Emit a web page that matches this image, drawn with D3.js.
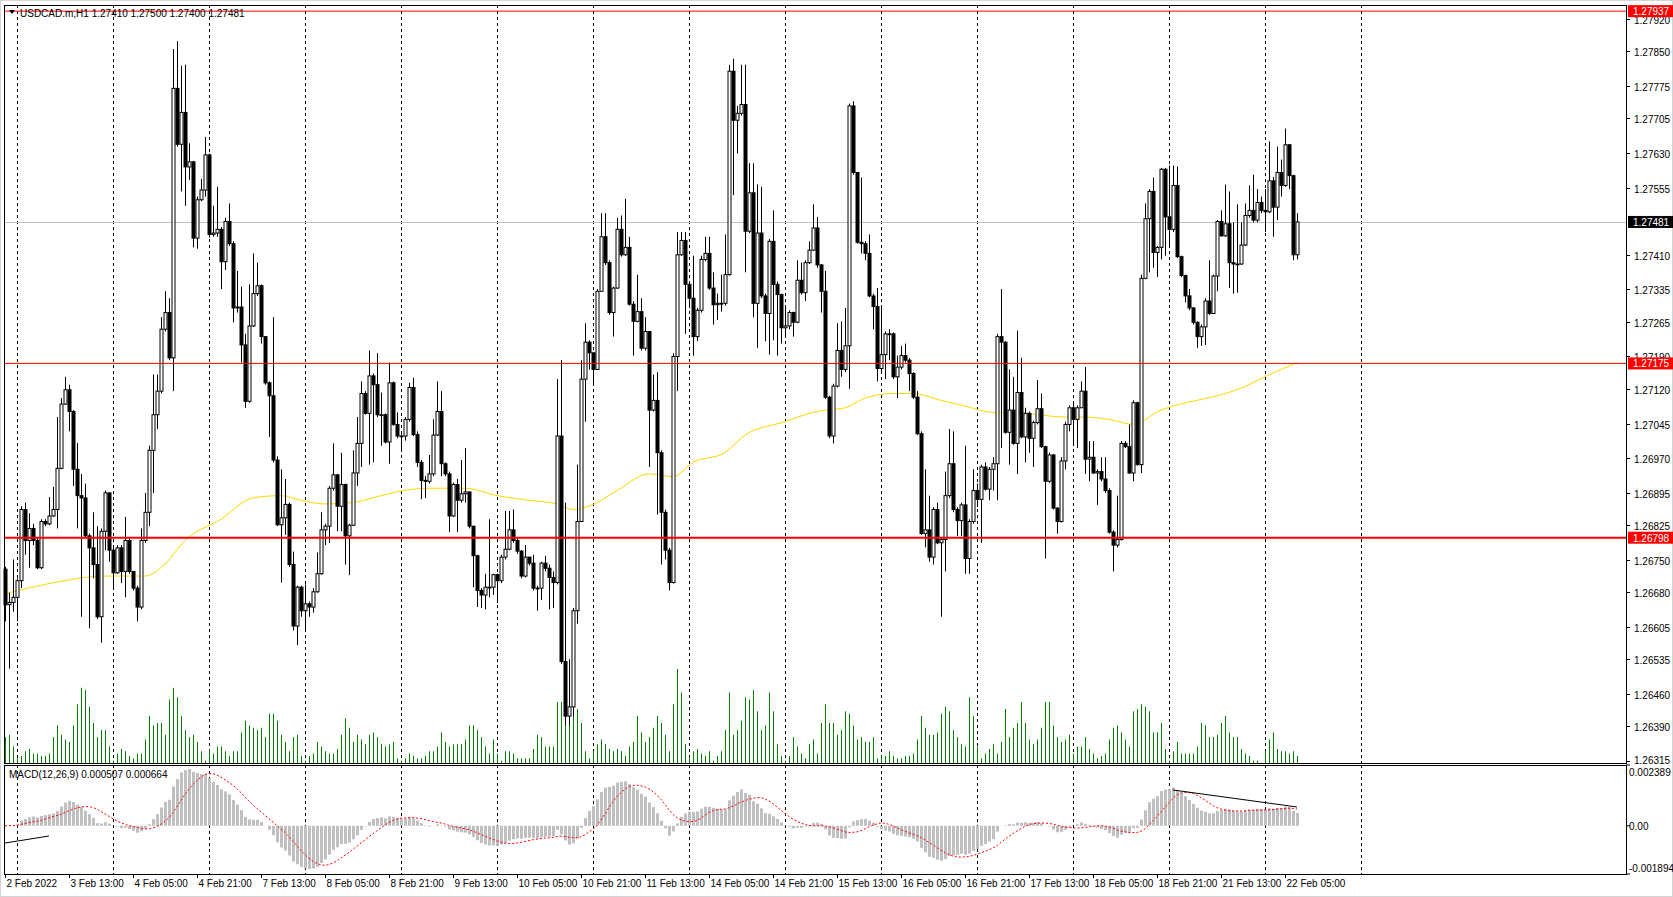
<!DOCTYPE html>
<html><head><meta charset="utf-8">
<script src="https://cdn.jsdelivr.net/npm/d3@7"></script>
<style>body{margin:0;background:#fff;}svg{display:block;font-family:"Liberation Sans",Arial,sans-serif;}</style>
</head><body>
<svg id="c" width="1673" height="897"></svg>
<script>
// prices stored as points above 1.26000 (1 point = 0.00001)
const BASE = 1.26;
const closePts = [
653,658,669,705,859,792,818,792,733,833, 828,845,859,948,1087,1118,1071,946,889,884,
802,776,740,627,812,895,771,722,776,725, 792,725,689,648,792,853,987,1064,1115,1249,
1285,1187,1770,1649,1718,1600,1611,1446,1529,1550, 1626,1454,1457,1465,1395,1482,1434,1295,1297,1215,
1093,1256,1326,1343,1233,1133,1105,966,826,841, 870,740,607,691,640,655,648,681,720,815,
823,905,934,866,913,802,825,938,1002,1110, 1067,1148,1129,1064,1064,1005,1133,1043,1018,1018,
1054,1123,1021,961,922,920,936,1020,1071,958, 936,845,913,879,893,897,823,759,684,674,
691,691,718,705,756,773,815,792,769,715, 756,743,689,689,743,732,712,701,1018,530,
412,432,640,833,1141,1221,1198,1162,1331,1449, 1393,1285,1338,1465,1410,1426,1303,1266,1287,1208,
1244,1074,1095,982,853,771,701,1190,1410,1441, 1346,1316,1233,1290,1400,1413,1338,1302,1305,1305,
1367,1807,1701,1716,1735,1461,1544,1305,1457,1321, 1283,1439,1346,1324,1252,1256,1285,1264,1355,1328,
1393,1420,1468,1388,1331,1102,1018,1126,1203,1162, 1213,1732,1588,1437,1434,1413,1321,1298,1164,1194,
1239,1239,1146,1167,1192,1182,1153,1102,1023,807, 815,756,859,787,794,889,958,859,835,869,
753,833,900,881,951,903,946,958,1233,1221, 1026,1074,1002,1112,1016,1067,1013,1047,1077,995,
920,977,862,833,964,1043,1079,1054,1079,1115, 968,972,938,941,925,900,810,782,794,1002,
995,938,1090,956,1359,1488,1547,1415,1426,1595, 1492,1465,1560,1406,1365,1321,1295,1264,1233,1254,
1310,1283,1364,1482,1451,1477,1393,1390,1390,1431, 1495,1506,1485,1523,1506,1503,1570,1513,1588,1560,
1648,1581,1410,1481];
const highPts = [
735,679,751,710,866,874,851,828,797,838, 838,886,908,1059,1100,1146,1129,1074,1003,936,
915,807,853,823,818,900,895,776,782,782, 843,797,720,694,818,895,997,1151,1151,1275,
1331,1316,1855,1872,1819,1821,1651,1613,1536,1574, 1665,1629,1516,1557,1470,1490,1521,1439,1375,1341,
1239,1346,1413,1393,1346,1233,1136,1275,974,946, 925,874,768,694,694,697,660,689,766,853,
828,910,1002,936,982,915,828,987,1059,1136, 1115,1203,1153,1197,1112,1067,1177,1136,1069,1028,
1059,1133,1144,1028,966,931,977,1054,1136,1115, 961,941,917,925,966,992,897,823,761,689,
720,838,720,720,761,856,856,859,797,771, 782,756,761,694,746,759,740,725,1141,1182,
874,535,646,956,1182,1262,1225,1197,1336,1500, 1500,1398,1341,1490,1495,1531,1449,1310,1367,1316,
1275,1244,1151,1156,987,859,776,1197,1459,1459, 1459,1321,1408,1295,1408,1449,1449,1372,1326,1367,
1454,1821,1834,1732,1821,1821,1608,1608,1562,1557, 1326,1444,1506,1352,1326,1300,1290,1287,1398,1393,
1398,1439,1519,1492,1390,1375,1105,1131,1262,1266, 1295,1737,1742,1577,1577,1439,1454,1326,1338,1300,
1244,1249,1242,1192,1213,1218,1187,1156,1115,1028, 946,889,864,874,797,941,1033,1028,864,874,
997,838,946,915,956,961,951,972,1239,1336, 1223,1162,1146,1246,1187,1079,1071,1051,1139,1110,
997,982,979,864,972,1049,1084,1090,1084,1136, 1167,1007,1007,946,972,972,905,814,889,1007,
1007,1043,1095,1092,1367,1521,1552,1577,1429,1598, 1598,1603,1603,1601,1408,1367,1336,1297,1266,1259,
1316,1398,1367,1485,1506,1562,1547,1480,1519,1480, 1521,1560,1583,1552,1536,1552,1655,1578,1644,1616,
1683,1649,1583,1500];
const lowPts = [
617,515,638,617,689,761,733,782,730,730, 823,825,843,818,946,1085,1028,910,818,627,
797,602,710,622,571,771,746,689,720,700, 669,720,684,617,643,787,823,895,1033,1110,
1244,1182,1115,1644,1547,1516,1572,1426,1423,1526, 1536,1447,1449,1449,1336,1377,1429,1264,1285,1177,
1079,1090,1254,1321,1218,1129,1016,961,823,701, 804,735,597,566,627,595,627,636,679,718,
782,787,900,812,812,740,717,823,910,951, 1064,956,961,1059,997,1002,958,1040,1013,987,
1008,1049,1018,951,881,884,915,931,1018,931, 931,810,843,810,874,874,818,691,648,646,
643,669,674,656,700,751,771,787,763,710, 712,738,684,640,663,725,643,646,697,525,
391,391,412,612,833,1049,1162,1131,1162,1331, 1388,1280,1233,1336,1406,1408,1300,1192,1264,1203,
1203,951,1071,848,740,751,684,699,1115,1408, 1239,1295,1192,1223,1285,1396,1334,1259,1269,1287,
1300,1365,1539,1629,1711,1372,1457,1275,1208,1316, 1223,1194,1225,1192,1218,1233,1249,1233,1262,1324,
1310,1390,1418,1382,1285,1098,1013,1002,1123,1146, 1156,1120,1583,1434,1413,1398,1318,1249,1136,1156,
1141,1182,1141,1100,1162,1177,1115,1098,1020,804, 777,746,740,784,627,725,884,853,802,802,
720,720,828,864,787,900,879,900,879,992, 1023,956,999,936,1013,961,982,951,1043,992,
753,917,859,807,831,946,1028,997,992,1079, 936,920,936,869,920,895,807,725,777,792,
992,936,920,954,938,1357,1372,1382,1362,1400, 1408,1431,1459,1403,1362,1307,1290,1259,1208,1213,
1215,1280,1287,1331,1449,1449,1338,1326,1328,1388, 1429,1490,1480,1480,1500,1459,1500,1449,1485,1536,
1557,1552,1398,1400];
const firstOpenPts = 730;
const volumes = [
55,60,35,10,15,25,30,20,20,15, 15,20,55,80,60,50,45,80,125,160,
155,120,85,55,70,70,35,5,20,30, 25,15,10,20,20,50,100,80,85,85,
60,135,160,140,100,70,55,60,45,25, 5,30,20,35,35,25,15,25,25,65,
90,80,75,70,75,55,105,105,90,60, 45,25,55,60,15,5,15,20,45,35,
25,20,20,30,60,95,75,45,60,50, 40,60,65,55,40,35,40,45,10,5,
10,20,15,10,10,15,25,25,35,65, 45,35,40,40,40,50,80,80,70,55,
35,20,50,20,5,25,25,20,10,10, 10,10,30,60,55,35,35,35,130,130,
125,130,135,115,85,25,10,25,40,50, 40,30,25,30,25,15,35,45,100,65,
45,55,75,100,85,60,25,125,200,150, 40,10,25,30,20,15,25,5,15,25,
70,150,60,70,90,140,135,155,110,70, 80,150,110,40,15,5,15,55,35,20,
10,40,50,20,85,125,85,85,60,70, 110,105,80,50,55,45,45,55,10,15,
15,25,15,10,10,15,15,20,50,100, 75,60,60,65,105,120,110,70,55,40,
35,140,100,35,10,20,30,40,20,45, 115,55,75,85,130,85,50,40,50,75,
130,130,80,55,45,50,60,20,35,35, 55,30,20,10,15,20,50,75,80,65,
50,35,110,115,125,120,110,65,65,85, 30,5,25,45,20,20,20,20,35,85,
80,55,55,60,85,100,65,55,55,30, 20,15,5,5,0,25,50,65,30,25,
25,20,25,15];
const maIdx = [0,15,24,35,40,45,54,62,69,74,80,87,94,102,107,115,123,131,138,142,148,153,161,167,172,180,185,195,202,205,210,215,222,227,234,239,247,255,265,269,276,282,289,293,303,308,315,319,323];
const maPts = [677,705,715,715,741,792,838,884,889,879,871,874,889,903,905,905,889,879,871,859,874,900,936,930,961,982,1020,1049,1069,1074,1079,1100,1110,1110,1095,1085,1069,1067,1059,1059,1054,1043,1074,1085,1105,1118,1146,1162,1177];
const levels = [1.27937, 1.27175, 1.26798];
const levelWidths = [1, 1, 2];
const currentPrice = 1.27481;
const priceTicks = [1.27920,1.27850,1.27775,1.27705,1.27630,1.27555,1.27410,1.27335,1.27265,1.27190,1.27120,1.27045,1.26970,1.26895,1.26825,1.26750,1.26680,1.26605,1.26535,1.26460,1.26390,1.26315];
const dateLabels = ["2 Feb 2022","3 Feb 13:00","4 Feb 05:00","4 Feb 21:00","7 Feb 13:00","8 Feb 05:00","8 Feb 21:00","9 Feb 13:00","10 Feb 05:00","10 Feb 21:00","11 Feb 13:00","14 Feb 05:00","14 Feb 21:00","15 Feb 13:00","16 Feb 05:00","16 Feb 21:00","17 Feb 13:00","18 Feb 05:00","18 Feb 21:00","21 Feb 13:00","22 Feb 05:00"];
const dayStartIdx = [3,27,51,75,99,123,147,171,195,219,243,267,291,315,339];
const macdTrend1 = {i:[0,11], v:[-0.000676,-0.000401]};
const macdTrend2 = {i:[292,323], v:[0.001407,0.000739]};
const macdRange = [-0.001894, 0.002389];

const bars = closePts.map((c,i)=>{
  const o = BASE + (i===0?firstOpenPts:closePts[i-1])/1e5;
  const cl = BASE + c/1e5;
  return {i, o, c:cl, h:Math.max(BASE+highPts[i]/1e5,o,cl), l:Math.min(BASE+lowPts[i]/1e5,o,cl), vol:volumes[i]};
});

const svg = d3.select("#c");
const L=4, R=1626, T=5, B=763, MT=765, MB=874;
const x = d3.scaleLinear().domain([0,323]).range([5,1297]);
const y = d3.scaleLinear().domain([1.26315,1.27920]).range([761,19]);
const yv = d3.scaleLinear().domain([0,200]).range([763,669]);
const ym = d3.scaleLinear().domain(macdRange).range([MB,MT]);

svg.append("rect").attr("x",0.5).attr("y",0.5).attr("width",1672).attr("height",896).attr("fill","none").attr("stroke","#d4d4d4");

const gx = svg.append("g");
dayStartIdx.forEach(i=>{
  const xx = Math.round(x(i))+0.5;
  gx.append("line").attr("x1",xx).attr("x2",xx).attr("y1",T).attr("y2",B).attr("stroke","#000").attr("stroke-dasharray","3,3");
  gx.append("line").attr("x1",xx).attr("x2",xx).attr("y1",MT).attr("y2",MB).attr("stroke","#000").attr("stroke-dasharray","3,3");
});

svg.append("g").selectAll("line").data(bars).join("line")
  .attr("x1",d=>Math.round(x(d.i))+0.5).attr("x2",d=>Math.round(x(d.i))+0.5)
  .attr("y1",yv(0)).attr("y2",d=>yv(d.vol)).attr("stroke","#008000").attr("stroke-width",1);

svg.append("line").attr("x1",L).attr("x2",R).attr("y1",Math.round(y(currentPrice))+0.5).attr("y2",Math.round(y(currentPrice))+0.5).attr("stroke","#c0c0c0");

const maLine = d3.line().x((d,k)=>x(maIdx[k])).y(d=>y(BASE+d/1e5)).curve(d3.curveMonotoneX);
svg.append("path").attr("d",maLine(maPts)).attr("fill","none").attr("stroke","#ffd700").attr("stroke-width",1);

const cg = svg.append("g");
bars.forEach(d=>{
  const xx = Math.round(x(d.i))+0.5;
  cg.append("line").attr("x1",xx).attr("x2",xx).attr("y1",y(d.h)).attr("y2",y(d.l)).attr("stroke","#000");
  const top = y(Math.max(d.o,d.c)), bot = y(Math.min(d.o,d.c));
  cg.append("rect").attr("x",xx-1.5).attr("y",top).attr("width",3).attr("height",Math.max(0.8,bot-top))
    .attr("fill",d.c>=d.o?"#fff":"#000").attr("stroke","#000").attr("stroke-width",1);
});

levels.forEach((lv,k)=>{
  svg.append("line").attr("x1",L).attr("x2",R).attr("y1",y(lv)).attr("y2",y(lv)).attr("stroke","#ff0000").attr("stroke-width",levelWidths[k]);
});

let e12=bars[0].c, e26=bars[0].c; const macd=[];
bars.forEach(d=>{ e12 += (2/13)*(d.c-e12); e26 += (2/27)*(d.c-e26); macd.push(e12-e26); });
const sig = macd.map((m,i)=>d3.mean(macd.slice(Math.max(0,i-8),i+1)));
svg.append("g").selectAll("rect").data(macd).join("rect")
  .attr("x",(d,i)=>Math.round(x(i))-1).attr("width",3)
  .attr("y",d=>Math.min(ym(d),ym(0))).attr("height",d=>Math.abs(ym(d)-ym(0)))
  .attr("fill","#c0c0c0");
svg.append("path").attr("d",d3.line().x((d,i)=>x(i)).y(d=>ym(d))(sig)).attr("fill","none").attr("stroke","#ff0000").attr("stroke-dasharray","2,2");
[macdTrend1,macdTrend2].forEach(t=>{
  svg.append("line").attr("x1",x(t.i[0])).attr("x2",x(t.i[1])).attr("y1",ym(t.v[0])).attr("y2",ym(t.v[1])).attr("stroke","#000");
});

svg.append("rect").attr("x",L+0.5).attr("y",T+0.5).attr("width",R-L).attr("height",B-T).attr("fill","none").attr("stroke","#000");
svg.append("rect").attr("x",L+0.5).attr("y",MT+0.5).attr("width",R-L).attr("height",MB-MT).attr("fill","none").attr("stroke","#000");

const ax = svg.append("g").attr("font-size",10).attr("fill","#000");
priceTicks.forEach(p=>{
  const yy=Math.round(y(p))+0.5;
  ax.append("line").attr("x1",R).attr("x2",R+4).attr("y1",yy).attr("y2",yy).attr("stroke","#000");
  ax.append("text").attr("x",R+8).attr("y",yy+ (p===1.26315?2:4)).text(p.toFixed(5));
});
function tag(p,col){
  const yy=y(p);
  ax.append("rect").attr("x",R+2).attr("y",yy-6).attr("width",45).attr("height",12).attr("fill",col);
  ax.append("text").attr("x",R+7).attr("y",yy+4).attr("fill","#fff").text(p.toFixed(5));
}
levels.forEach(lv=>tag(lv,"#ff0000"));
tag(currentPrice,"#000");

[[macdRange[1],"0.002389",11],[0,"0.00",4],[macdRange[0],"-0.001894",-2]].forEach(([v,t,dy])=>{
  ax.append("line").attr("x1",R).attr("x2",R+4).attr("y1",ym(v)).attr("y2",ym(v)).attr("stroke","#000");
  ax.append("text").attr("x",R+3).attr("y",ym(v)+dy).text(t);
});

dateLabels.forEach((t,k)=>{
  const xx=Math.round(x(k*16))+0.5;
  ax.append("line").attr("x1",xx).attr("x2",xx).attr("y1",MB).attr("y2",MB+4).attr("stroke","#000");
  ax.append("text").attr("x",xx+1).attr("y",887).text(t);
});

svg.append("path").attr("d","M9,10 L15,10 L12,14 Z").attr("fill","#000");
svg.append("text").attr("x",20).attr("y",17).attr("font-size",10).text("USDCAD.m,H1  1.27410 1.27500 1.27400 1.27481");
svg.append("text").attr("x",9).attr("y",778).attr("font-size",10).text("MACD(12,26,9) 0.000507 0.000664");
</script>
</body></html>
